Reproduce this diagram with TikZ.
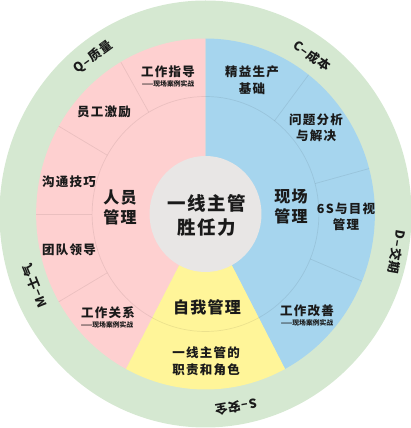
\documentclass[tikz,border=0pt]{standalone}
\usepackage{fontspec}
\setmainfont{Noto Sans CJK SC}
\definecolor{ringgreen}{HTML}{D5E8D1}
\definecolor{pinkc}{HTML}{FED0D0}
\definecolor{bluec}{HTML}{A6D5EE}
\definecolor{yellowc}{HTML}{FFF599}
\definecolor{greyc}{HTML}{E8E6E5}
\definecolor{txt}{HTML}{1A1A1A}
\tikzset{
  faint/.style={draw=black, draw opacity=0.08, line width=0.7pt},
  lab/.style={font=\fontsize{12.5}{16.5}\selectfont\bfseries\addfontfeature{LetterSpace=10}, align=center, inner sep=0pt, text=txt},
  sub/.style={font=\fontsize{6.8}{8}\selectfont\bfseries, inner sep=0pt, text=txt},
  big/.style={font=\fontsize{16}{20}\selectfont\bfseries\addfontfeature{LetterSpace=8}, align=center, inner sep=0pt, text=txt},
  huge/.style={font=\fontsize{18.5}{24}\selectfont\bfseries\addfontfeature{LetterSpace=8}, align=center, inner sep=0pt, text=txt},
  outer/.style={font=\fontsize{12.5}{14}\selectfont\bfseries\addfontfeature{LetterSpace=6}, inner sep=0pt, text=txt}
}
\begin{document}
\begin{tikzpicture}[x=1pt,y=1pt]
\useasboundingbox (0,0) rectangle (411,428);
\begin{scope}[shift={(205.5,214)}, xscale=0.965]
  \fill[ringgreen] (0,0) circle[radius=213.5];
  \fill[pinkc] (0,0) -- (90:175.5) arc[start angle=90, end angle=242, radius=175.5] -- cycle;
  \fill[bluec] (0,0) -- (-62:175.5) arc[start angle=-62, end angle=90, radius=175.5] -- cycle;
  \fill[yellowc] (0,0) -- (242:175.5) arc[start angle=242, end angle=298, radius=175.5] -- cycle;
  \draw[faint] (0,0) circle[radius=117.5];
  \foreach \a in {120,150,180,210,52.5,15,-22.5}
    \draw[faint] (\a:117.5) -- (\a:175.5);
  \fill[greyc] (0,0) circle[radius=58];
\end{scope}

% centre
\node[huge] (core) at (207,213) {一线主管\\胜任力};
% pink
\node[big] (people) at (120,221) {人员\\管理};
\node[lab] (guide) at (168,356) {工作指导};
\node[sub] (guides) at (168,344) {——现场案例实战};
\node[lab] (motiv) at (104,316) {员工激励};
\node[lab] (comm) at (69,246) {沟通技巧};
\node[lab] (team) at (69,178) {团队领导};
\node[lab] (rel) at (108,115) {工作关系};
\node[sub] (rels) at (107,103) {——现场案例实战};
% blue
\node[big] (site) at (291,221) {现场\\管理};
\node[lab] (lean) at (252,348) {精益生产\\基础};
\node[lab] (prob) at (316,300) {问题分析\\与解决};
\node[lab] (sixs) at (346,211) {6S与目视\\管理};
\node[lab] (impr) at (307,117) {工作改善};
\node[sub] (imprs) at (307,105) {——现场案例实战};
% yellow
\node[big] (self) at (207,121) {自我管理};
\node[lab] (role) at (206,67) {一线主管的\\职责和角色};
% outer ring
\node[outer, rotate=36] (q) at (93,371) {Q–质量};
\node[outer, rotate=-35] (c) at (312,372) {C–成本};
\node[outer, rotate=-100] (d) at (397,176) {D–交期};
\node[outer, rotate=-170] (s) at (236,21) {S–安全};
\node[outer, rotate=112] (m) at (35,142) {M–士气};
\end{tikzpicture}
\end{document}
